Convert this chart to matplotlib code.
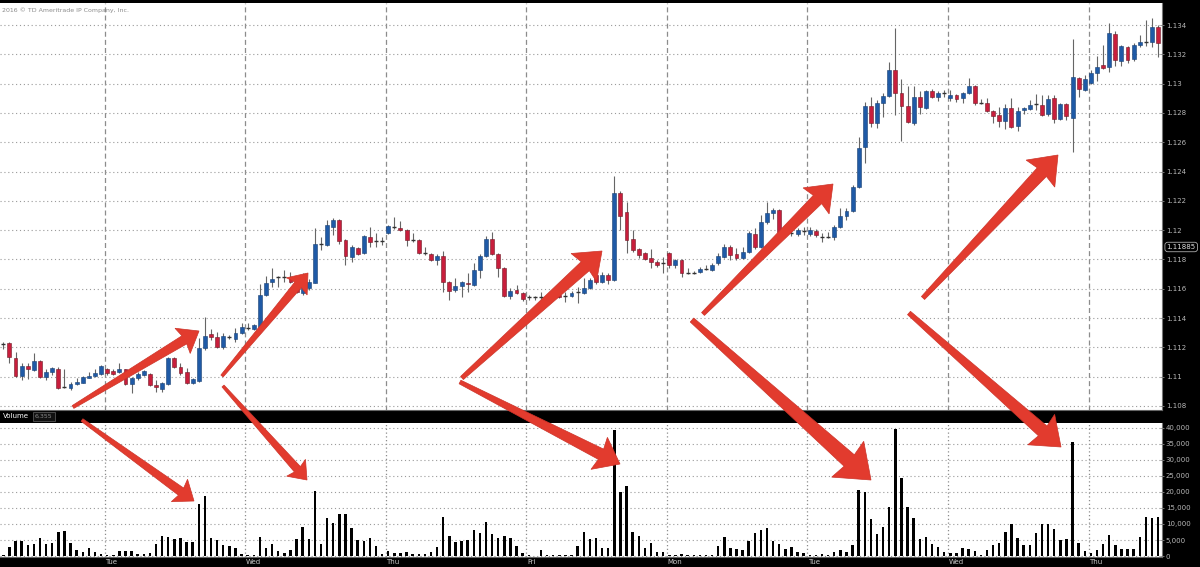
import numpy as np
import matplotlib
matplotlib.use("Agg")
import matplotlib.pyplot as plt
from matplotlib.patches import Polygon
from matplotlib.transforms import blended_transform_factory

# hourly EUR/USD style candles
opens = [
    1.11223, 1.11230, 1.11127, 1.11005, 1.11073, 1.11046, 1.11107, 1.10998, 1.11032, 1.11052,
    1.10929, 1.10922, 1.10950, 1.10957, 1.10991, 1.11005, 1.11018, 1.11052, 1.11039, 1.11032,
    1.11052, 1.10950, 1.10991, 1.11012, 1.11018, 1.10943, 1.10916, 1.10950, 1.11127, 1.11066,
    1.11032, 1.10957, 1.10970, 1.11196, 1.11291, 1.11271, 1.11202, 1.11271, 1.11257, 1.11298,
    1.11332, 1.11325, 1.11339, 1.11557, 1.11646, 1.11680, 1.11680, 1.11673, 1.11646, 1.11571,
    1.11605, 1.11639, 1.11906, 1.11899, 1.12022, 1.12069, 1.11933, 1.11817, 1.11878, 1.11844,
    1.11953, 1.11926, 1.11926, 1.11981, 1.12022, 1.12015, 1.12001, 1.11933, 1.11933, 1.11844,
    1.11837, 1.11796, 1.11824, 1.11646, 1.11592, 1.11619, 1.11639, 1.11626, 1.11728, 1.11824,
    1.11940, 1.11837, 1.11742, 1.11551, 1.11592, 1.11571, 1.11544, 1.11544, 1.11544, 1.11537,
    1.11551, 1.11557, 1.11551, 1.11551, 1.11578, 1.11571, 1.11605, 1.11694, 1.11646, 1.11694,
    1.11660, 1.12254, 1.12124, 1.11940, 1.11871, 1.11844, 1.11810, 1.11783, 1.11776, 1.11844,
    1.11762, 1.11796, 1.11707, 1.11707, 1.11714, 1.11735, 1.11728, 1.11776, 1.11817, 1.11885,
    1.11837, 1.11810, 1.11851, 1.11974, 1.11885, 1.12056, 1.12117, 1.12138, 1.11987, 1.11981,
    1.11974, 1.11994, 1.11974, 1.11994, 1.11953, 1.11953, 1.11953, 1.12022, 1.12097, 1.12131,
    1.12295, 1.12568, 1.12847, 1.12731, 1.12868, 1.12916, 1.13093, 1.12936, 1.12847, 1.12731,
    1.12909, 1.12834, 1.12950, 1.12909, 1.12936, 1.12902, 1.12923, 1.12902, 1.12936, 1.12984,
    1.12868, 1.12868, 1.12813, 1.12786, 1.12745, 1.12834, 1.12711, 1.12820, 1.12827, 1.12861,
    1.12854, 1.12793, 1.12902, 1.12759, 1.12861, 1.12766, 1.13039, 1.12957, 1.13004, 1.13073,
    1.13127, 1.13114, 1.13339, 1.13155, 1.13250, 1.13168, 1.13264, 1.13284, 1.13284, 1.13387,
]
highs = [
    1.11236, 1.11236, 1.11168, 1.11094, 1.11094, 1.11161, 1.11114, 1.11052, 1.11066, 1.11066,
    1.11052, 1.10963, 1.10991, 1.11005, 1.11032, 1.11052, 1.11080, 1.11059, 1.11052, 1.11094,
    1.11052, 1.10998, 1.11032, 1.11046, 1.11025, 1.10977, 1.10963, 1.11134, 1.11134, 1.11094,
    1.11059, 1.10991, 1.11264, 1.11407, 1.11325, 1.11305, 1.11298, 1.11284, 1.11332, 1.11366,
    1.11366, 1.11360, 1.11633, 1.11687, 1.11742, 1.11687, 1.11728, 1.11714, 1.11687, 1.11707,
    1.11666, 1.12015, 1.11953, 1.12069, 1.12083, 1.12076, 1.11940, 1.11899, 1.11885, 1.11967,
    1.12022, 1.11981, 1.11953, 1.12035, 1.12090, 1.12063, 1.12008, 1.11981, 1.11940, 1.11885,
    1.11844, 1.11837, 1.11858, 1.11653, 1.11673, 1.11653, 1.11707, 1.11776, 1.11837, 1.11960,
    1.11987, 1.11844, 1.11749, 1.11605, 1.11626, 1.11578, 1.11557, 1.11551, 1.11578, 1.11557,
    1.11564, 1.11571, 1.11578, 1.11585, 1.11612, 1.11673, 1.11673, 1.11701, 1.11714, 1.11707,
    1.12370, 1.12267, 1.12192, 1.12001, 1.11878, 1.11851, 1.11871, 1.11796, 1.11817, 1.11851,
    1.11803, 1.11803, 1.11742, 1.11721, 1.11749, 1.11762, 1.11776, 1.11844, 1.11906, 1.11899,
    1.11878, 1.11885, 1.11994, 1.12015, 1.12104, 1.12192, 1.12151, 1.12145, 1.12008, 1.12015,
    1.12015, 1.12022, 1.12022, 1.12008, 1.11981, 1.11987, 1.12035, 1.12151, 1.12151, 1.12308,
    1.12636, 1.12875, 1.12909, 1.12888, 1.12936, 1.13148, 1.13380, 1.13032, 1.12984, 1.12984,
    1.12950, 1.12957, 1.12963, 1.12950, 1.12957, 1.12957, 1.12929, 1.12943, 1.13039, 1.12991,
    1.12895, 1.12902, 1.12820, 1.12841, 1.12861, 1.12902, 1.12841, 1.12841, 1.12888, 1.12929,
    1.12923, 1.12923, 1.12923, 1.12868, 1.12868, 1.13305, 1.13045, 1.13059, 1.13093, 1.13189,
    1.13264, 1.13414, 1.13359, 1.13264, 1.13257, 1.13278, 1.13332, 1.13434, 1.13448, 1.13400,
]
lows = [
    1.11189, 1.11094, 1.10998, 1.10977, 1.10984, 1.11039, 1.10991, 1.10977, 1.11012, 1.10916,
    1.10922, 1.10909, 1.10943, 1.10957, 1.10991, 1.10998, 1.11012, 1.11012, 1.11012, 1.11025,
    1.10943, 1.10889, 1.10977, 1.11005, 1.10936, 1.10895, 1.10895, 1.10943, 1.11059, 1.11012,
    1.10950, 1.10950, 1.10963, 1.11182, 1.11250, 1.11196, 1.11189, 1.11257, 1.11236, 1.11291,
    1.11319, 1.11319, 1.11339, 1.11551, 1.11612, 1.11612, 1.11646, 1.11639, 1.11571, 1.11557,
    1.11592, 1.11639, 1.11865, 1.11892, 1.11967, 1.11906, 1.11762, 1.11783, 1.11830, 1.11837,
    1.11885, 1.11885, 1.11899, 1.11974, 1.12008, 1.11994, 1.11892, 1.11919, 1.11837, 1.11830,
    1.11789, 1.11762, 1.11578, 1.11523, 1.11578, 1.11544, 1.11578, 1.11619, 1.11673, 1.11817,
    1.11830, 1.11680, 1.11544, 1.11530, 1.11564, 1.11516, 1.11523, 1.11523, 1.11523, 1.11523,
    1.11530, 1.11537, 1.11510, 1.11544, 1.11503, 1.11564, 1.11598, 1.11632, 1.11639, 1.11632,
    1.11653, 1.12001, 1.11844, 1.11851, 1.11810, 1.11796, 1.11742, 1.11749, 1.11707, 1.11742,
    1.11742, 1.11680, 1.11701, 1.11701, 1.11707, 1.11728, 1.11721, 1.11762, 1.11810, 1.11796,
    1.11796, 1.11803, 1.11844, 1.11871, 1.11878, 1.12042, 1.12076, 1.11981, 1.11953, 1.11960,
    1.11960, 1.11967, 1.11960, 1.11953, 1.11919, 1.11946, 1.11933, 1.12015, 1.12069, 1.12124,
    1.12288, 1.12458, 1.12704, 1.12697, 1.12772, 1.12909, 1.12786, 1.12609, 1.12731, 1.12718,
    1.12793, 1.12827, 1.12902, 1.12882, 1.12909, 1.12882, 1.12875, 1.12868, 1.12929, 1.12854,
    1.12861, 1.12807, 1.12731, 1.12704, 1.12690, 1.12697, 1.12677, 1.12793, 1.12820, 1.12820,
    1.12779, 1.12779, 1.12731, 1.12752, 1.12752, 1.12533, 1.12909, 1.12950, 1.12998, 1.13018,
    1.13100, 1.13080, 1.13121, 1.13121, 1.13141, 1.13155, 1.13250, 1.13257, 1.13250, 1.13182,
]
closes = [
    1.11223, 1.11134, 1.11005, 1.11073, 1.11052, 1.11107, 1.10998, 1.11032, 1.11059, 1.10922,
    1.10929, 1.10950, 1.10963, 1.10998, 1.11005, 1.11025, 1.11073, 1.11025, 1.11018, 1.11052,
    1.10950, 1.10991, 1.11018, 1.11039, 1.10943, 1.10929, 1.10957, 1.11127, 1.11066, 1.11025,
    1.10957, 1.10984, 1.11196, 1.11278, 1.11271, 1.11202, 1.11278, 1.11271, 1.11298, 1.11339,
    1.11332, 1.11353, 1.11557, 1.11639, 1.11666, 1.11680, 1.11680, 1.11646, 1.11578, 1.11612,
    1.11646, 1.11906, 1.11906, 1.12035, 1.12069, 1.11926, 1.11824, 1.11885, 1.11837, 1.11960,
    1.11919, 1.11926, 1.11926, 1.12028, 1.12022, 1.12001, 1.11933, 1.11933, 1.11844, 1.11844,
    1.11796, 1.11824, 1.11646, 1.11585, 1.11619, 1.11646, 1.11632, 1.11728, 1.11824, 1.11940,
    1.11837, 1.11742, 1.11551, 1.11585, 1.11571, 1.11530, 1.11544, 1.11544, 1.11544, 1.11551,
    1.11551, 1.11544, 1.11551, 1.11571, 1.11578, 1.11605, 1.11660, 1.11646, 1.11694, 1.11660,
    1.12254, 1.12097, 1.11933, 1.11865, 1.11830, 1.11803, 1.11783, 1.11762, 1.11776, 1.11762,
    1.11796, 1.11707, 1.11707, 1.11707, 1.11735, 1.11735, 1.11762, 1.11824, 1.11885, 1.11830,
    1.11810, 1.11851, 1.11981, 1.11885, 1.12056, 1.12117, 1.12138, 1.11987, 1.11974, 1.11981,
    1.12001, 1.11994, 1.12001, 1.11967, 1.11953, 1.11953, 1.12022, 1.12097, 1.12131, 1.12295,
    1.12561, 1.12847, 1.12731, 1.12868, 1.12916, 1.13093, 1.12936, 1.12847, 1.12738, 1.12909,
    1.12841, 1.12950, 1.12909, 1.12936, 1.12936, 1.12923, 1.12895, 1.12936, 1.12984, 1.12868,
    1.12868, 1.12813, 1.12779, 1.12745, 1.12834, 1.12704, 1.12813, 1.12834, 1.12854, 1.12861,
    1.12786, 1.12895, 1.12759, 1.12861, 1.12779, 1.13045, 1.12963, 1.13032, 1.13073, 1.13114,
    1.13107, 1.13346, 1.13161, 1.13257, 1.13161, 1.13264, 1.13284, 1.13284, 1.13387, 1.13278,
]
volumes = [
    300, 2700, 4700, 4700, 3300, 3900, 5500, 3900, 4200, 7400,
    7800, 4200, 1800, 1400, 2400, 1100, 700, 300, 300, 1600,
    1600, 1600, 700, 700, 900, 3600, 6200, 5800, 5200, 5600,
    4400, 4400, 16300, 18700, 5600, 5000, 3300, 3100, 2400, 700,
    300, 300, 5800, 2600, 3700, 1600, 900, 1800, 5400, 9000,
    5400, 20400, 3900, 11900, 10200, 13000, 13000, 8600, 5000, 4800,
    5600, 3100, 700, 1600, 800, 800, 1250, 600, 600, 600,
    1350, 2900, 12200, 6350, 4400, 4600, 5000, 8100, 7300, 10500,
    6900, 5700, 6350, 5600, 3100, 800, 200, 100, 1800, 300,
    300, 300, 400, 400, 3100, 7500, 5200, 5600, 2600, 2500,
    39400, 20000, 21800, 7500, 6150, 2500, 4200, 1150, 1150, 400,
    200, 600, 400, 400, 400, 400, 400, 3200, 5800, 2600,
    2100, 1900, 4600, 7100, 8000, 8650, 4700, 3800, 2100, 2900,
    1250, 800, 300, 300, 600, 400, 1150, 1900, 1350, 3350,
    20500, 20000, 11600, 6800, 9200, 15300, 39700, 24300, 15200, 11800,
    5200, 5900, 3750, 2900, 1350, 800, 800, 2500, 2100, 1450,
    200, 1900, 3550, 4050, 7500, 9900, 5700, 3550, 3350, 7300,
    9900, 9900, 8300, 5000, 5200, 35500, 4200, 1700, 1050, 1900,
    3750, 6600, 3350, 2300, 2300, 2300, 5850, 12300, 11800, 12100,
]

day_starts = [17, 40, 63, 86, 109, 132, 155, 178]
day_names = ["Tue", "Wed", "Thu", "Fri", "Mon", "Tue", "Wed", "Thu"]
price_ticks = [1.108, 1.11, 1.112, 1.114, 1.116, 1.118, 1.12,
               1.122, 1.124, 1.126, 1.128, 1.13, 1.132, 1.134]
price_labels = ["1.108", "1.11", "1.112", "1.114", "1.116", "1.118", "1.12",
                "1.122", "1.124", "1.126", "1.128", "1.13", "1.132", "1.134"]
vol_ticks = [0, 5000, 10000, 15000, 20000, 25000, 30000, 35000, 40000]
vol_labels = ["0", "5,000", "10,000", "15,000", "20,000", "25,000",
              "30,000", "35,000", "40,000"]
marker_price = 1.11885
volume_readout = "6,355"

# red annotation arrows, tail -> tip, in image pixels (y down)
arrows = [
    (73, 407, 199, 331), (82, 420, 194, 501),
    (222, 376, 308, 273), (223, 386, 307, 480),
    (462, 378, 602, 251), (460, 382, 620, 464),
    (703, 314, 833, 184), (692, 320, 871, 480),
    (923, 298, 1058, 155), (909, 313, 1061, 447),
]

W, H = 1200, 567
O = np.array(opens)
C = np.array(closes)
x = np.arange(len(O))

fig = plt.figure(figsize=(W / 100, H / 100), dpi=100, facecolor="black")
ax = fig.add_axes([0, 157 / H, 1162 / W, 407 / H])
axv = fig.add_axes([0, 10 / H, 1162 / W, 134 / H])

for a in (ax, axv):
    a.set_facecolor("white")
    a.set_xlim(-0.54, 189.64)
    a.set_xticks([])
    for s in ("top", "left"):
        a.spines[s].set_visible(False)
    a.spines["right"].set_color("#777777")
    a.spines["bottom"].set_color("#666666")
    a.yaxis.tick_right()
    a.tick_params(axis="y", colors="#8a8a8a", labelcolor="#b8b8b8",
                  labelsize=5, length=2.5, width=0.6, direction="inout", pad=1.5)
    for s in day_starts:
        a.axvline(s - 0.38, color="#8c8c8c", lw=0.9,
                  ls=(0, (4, 2.5)) if a is ax else (0, (1, 2)), zorder=1)

# price panel
ax.set_ylim(1.10772, 1.13551)
ax.set_yticks(price_ticks)
ax.set_yticklabels(price_labels)
ax.grid(axis="y", color="#9a9a9a", ls=(0, (1, 2.5)), lw=0.8, zorder=0)

up = C > O
dn = C < O
flat = C == O
ax.vlines(x, lows, highs, color="#666666", lw=0.8, zorder=2)
ax.bar(x[up], (C - O)[up], bottom=O[up], width=0.64, color="#1f5aa6",
       edgecolor="#183f72", lw=0.4, zorder=3)
ax.bar(x[dn], (O - C)[dn], bottom=C[dn], width=0.64, color="#c81e3c",
       edgecolor="#6e1a26", lw=0.4, zorder=3)
ax.hlines(O[flat], x[flat] - 0.32, x[flat] + 0.32, color="#333333", lw=1.0, zorder=3)

ax.text(1.004, marker_price, "1.11885", transform=blended_transform_factory(ax.transAxes, ax.transData),
        ha="left", va="center", color="#dddddd", fontsize=5, clip_on=False,
        bbox=dict(boxstyle="round,pad=0.25,rounding_size=0.4", fc="black", ec="#aaaaaa", lw=0.6))

# volume panel
axv.set_ylim(-312, 41560)
axv.set_yticks(vol_ticks)
axv.set_yticklabels(vol_labels)
axv.grid(axis="y", color="#9a9a9a", ls=(0, (1, 2.5)), lw=0.8, zorder=0)
axv.bar(x, volumes, width=0.4, color="black", zorder=3)

bt = blended_transform_factory(axv.transData, fig.transFigure)
for s, name in zip(day_starts, day_names):
    axv.text(s - 0.3, 5 / H, name, transform=bt, color="#c8c8c8", fontsize=5,
             ha="left", va="center", clip_on=False)

fig.text(3 / W, 1 - 416.5 / H, "Volume", color="white", fontsize=5, va="center")
fig.text(35 / W, 1 - 416.5 / H, volume_readout, color="#8a8a8a", fontsize=4.5, va="center",
         bbox=dict(boxstyle="square,pad=0.3", fc="#111111", ec="#555555", lw=0.6))
fig.text(2 / W, 1 - 10 / H, "2016 \u00a9 TD Ameritrade IP Company, Inc.", color="#8a8a8a",
         fontsize=4.5, va="center")


def big_arrow(x0, y0, x1, y1):
    # tapered shaft, head sized from the arrow length
    t = np.array([x0, H - y0], float)
    p = np.array([x1, H - y1], float)
    length = np.hypot(*(p - t))
    u = (p - t) / length
    n = np.array([-u[1], u[0]])
    hl, hw = 0.13 * length, 0.10 * length
    neck = p - u * (hl - 2)
    base = p - u * hl
    w0, w1 = 0.011 * length, 0.032 * length
    pts = [t + n * w0, neck + n * w1, base + n * hw, p,
           base - n * hw, neck - n * w1, t - n * w0]
    pts = np.array(pts) / [W, H]
    fig.add_artist(Polygon(pts, closed=True, transform=fig.transFigure,
                           fc="#e23b2e", ec="#cc3329", lw=0.5, zorder=10))


for a in arrows:
    big_arrow(*a)

fig.savefig("out.png", dpi=100, facecolor="black")
